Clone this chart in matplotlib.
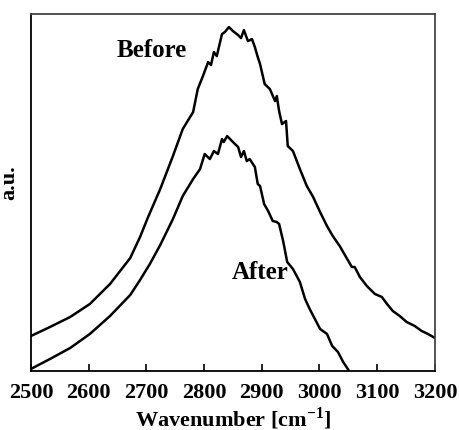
import matplotlib
matplotlib.use("Agg")
import matplotlib.pyplot as plt

plt.rcParams["font.family"] = ["Liberation Serif", "DejaVu Serif"]
plt.rcParams["font.weight"] = "bold"
plt.rcParams["mathtext.fontset"] = "custom"
plt.rcParams["mathtext.rm"] = "Liberation Serif:bold"
plt.rcParams["mathtext.bf"] = "Liberation Serif:bold"

# spectra (wavenumber, arbitrary units)
before_wn = [2500, 2533, 2568, 2602, 2637, 2672, 2689, 2703, 2724, 2746, 2763,
             2781, 2789, 2798, 2807, 2812, 2817, 2822, 2831, 2836, 2843, 2850,
             2859, 2864, 2869, 2876, 2883, 2888, 2893, 2897, 2905, 2914, 2923,
             2926, 2930, 2935, 2942, 2945, 2954, 2966, 2978, 2989, 3001, 3013,
             3023, 3035, 3048, 3056, 3061, 3070, 3082, 3096, 3108, 3117, 3127,
             3139, 3151, 3165, 3177, 3188, 3197, 3200]
before_au = [35, 44, 54, 67, 87, 113, 134, 154, 182, 215, 242,
             259, 282, 295, 309, 306, 319, 315, 337, 339, 344, 340,
             336, 333, 341, 330, 332, 324, 314, 307, 287, 282, 270,
             275, 260, 247, 250, 225, 220, 202, 185, 174, 159, 145,
             135, 125, 112, 104, 104, 94, 85, 77, 74, 67, 60,
             55, 49, 45, 40, 37, 34, 33]

after_wn = [2500, 2533, 2568, 2602, 2637, 2672, 2689, 2706, 2724, 2746, 2763,
            2781, 2793, 2801, 2810, 2817, 2824, 2831, 2834, 2840, 2845, 2850,
            2859, 2864, 2869, 2874, 2879, 2888, 2893, 2897, 2904, 2911, 2919,
            2926, 2930, 2937, 2944, 2954, 2966, 2975, 2983, 2992, 3001, 3013,
            3022, 3032, 3041, 3049, 3060]
after_au = [2, 12, 23, 37, 55, 76, 91, 107, 126, 152, 175,
            192, 202, 217, 212, 220, 217, 232, 229, 235, 232, 229,
            224, 214, 220, 210, 212, 204, 187, 185, 167, 160, 150,
            149, 147, 130, 109, 102, 89, 72, 62, 52, 42, 37,
            25, 19, 9, 2, -8]

xticks = [2500, 2600, 2700, 2800, 2900, 3000, 3100, 3200]

fig = plt.figure(figsize=(4.59, 4.31), dpi=100)
ax = fig.add_axes([0.0675, 0.137, 0.880, 0.828])

ax.plot(before_wn, before_au, color="black", lw=1.8)
ax.plot(after_wn, after_au, color="black", lw=1.8)

ax.set_xlim(2500, 3200)
ax.set_ylim(0, 357)
ax.set_xticks(xticks)
ax.set_yticks([])
ax.tick_params(axis="x", direction="in", length=5, width=1.2, labelsize=16, pad=8)

for s in ("left", "bottom"):
    ax.spines[s].set_color("black")
    ax.spines[s].set_linewidth(1.3)
for s in ("top", "right"):
    ax.spines[s].set_color("#444444")
    ax.spines[s].set_linewidth(1.3)

ax.text(2710, 322, "Before", ha="center", va="center", fontsize=18, fontweight="bold")
ax.text(2897, 99, "After", ha="center", va="center", fontsize=18, fontweight="bold")

ax.set_xlabel(r"Wavenumber [cm$^{\mathregular{-1}}$]", fontsize=16, fontweight="bold", labelpad=2)
ax.set_ylabel("a.u.", fontsize=16, fontweight="bold")
ax.yaxis.set_label_coords(-0.028, 0.53)

fig.savefig("out.png", dpi=100)
